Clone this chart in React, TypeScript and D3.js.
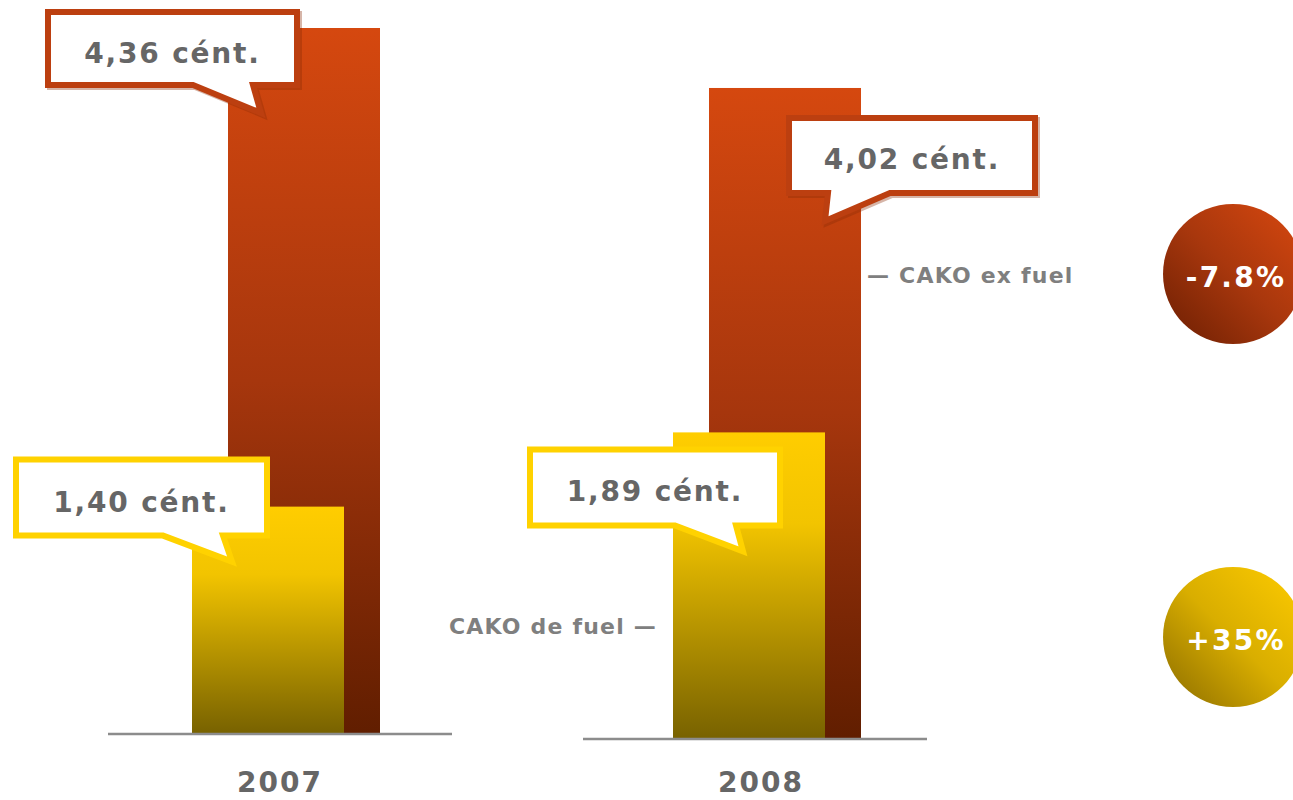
import React from "react";
import * as d3 from "d3";

const years = ["2007", "2008"];
const exFuel = [4.36, 4.02];
const deFuel = [1.40, 1.89];
const exFuelLabels = ["4,36 cént.", "4,02 cént."];
const deFuelLabels = ["1,40 cént.", "1,89 cént."];
const changes = ["-7.8%", "+35%"];
const seriesNames = ["CAKO ex fuel", "CAKO de fuel"];

const W = 1293;
const H = 800;
const baselines = [733, 738];
const barW = 152;
const yellowOff = 84;
const orangeOff = 120;

// callout layout offsets relative to bar left/top: box [x0,x1,y0,y1], tail base [a,b], tip [tx,ty]
const exCallouts = [
  { box: [-180, 69, -16, 57], base: [-35, 25], tip: [33, 85] },
  { box: [80, 326, 30, 105], base: [119, 181], tip: [116, 133] },
];
const deCallouts = [
  { box: [-176, 75, -47, 29], base: [-29, 31], tip: [40, 55] },
  { box: [-143, 107, 17, 93], base: [2, 63], tip: [70, 119] },
];

function calloutPath(bx: number, by: number, c: any) {
  const [x0, x1, y0, y1] = c.box.map((v: number, i: number) => (i < 2 ? bx + v : by + v));
  const a = bx + c.base[0];
  const b = bx + c.base[1];
  const tx = bx + c.tip[0];
  const ty = by + c.tip[1];
  const p = d3.path();
  p.moveTo(x0, y0);
  p.lineTo(x1, y0);
  p.lineTo(x1, y1);
  p.lineTo(b, y1);
  p.lineTo(tx, ty);
  p.lineTo(a, y1);
  p.lineTo(x0, y1);
  p.closePath();
  return { d: p.toString(), cx: (x0 + x1) / 2, cy: (y0 + y1) / 2 };
}

export default function App() {
  const x = d3.scaleBand<string>().domain(years).range([108, 108 + 481 * 2]);
  const h = d3.scaleLinear().domain([0, 4.36]).range([0, 705]);
  const font = "'DejaVu Sans', Verdana, sans-serif";

  return (
    <div style={{ position: "absolute", left: 0, top: 0 }}>
      <svg width={W} height={H} style={{ display: "block" }}>
        <defs>
          <linearGradient id="gOr" x1="0" y1="0" x2="0" y2="1">
            <stop offset="0" stopColor="#D5480F" />
            <stop offset="0.5" stopColor="#A6360D" />
            <stop offset="1" stopColor="#611E00" />
          </linearGradient>
          <linearGradient id="gYe" x1="0" y1="0" x2="0" y2="1">
            <stop offset="0" stopColor="#FFCD00" />
            <stop offset="0.3" stopColor="#F2C400" />
            <stop offset="1" stopColor="#786200" />
          </linearGradient>
          <linearGradient id="cOr" x1="1" y1="0" x2="0" y2="1">
            <stop offset="0" stopColor="#D8480F" />
            <stop offset="0.5" stopColor="#A8370D" />
            <stop offset="1" stopColor="#6A1E02" />
          </linearGradient>
          <linearGradient id="cYe" x1="1" y1="0" x2="0" y2="1">
            <stop offset="0" stopColor="#FFCC00" />
            <stop offset="0.5" stopColor="#D9AE00" />
            <stop offset="1" stopColor="#8A6B00" />
          </linearGradient>
        </defs>

        {years.map((yr, i) => {
          const x0 = x(yr)!;
          const base = baselines[i];
          const oTop = base - h(exFuel[i]);
          const yTop = base - h(deFuel[i]);
          return (
            <g key={yr}>
              <rect x={x0 + orangeOff} y={oTop} width={barW} height={h(exFuel[i])} fill="url(#gOr)" />
              <rect x={x0 + yellowOff} y={yTop} width={barW} height={h(deFuel[i])} fill="url(#gYe)" />
              <line x1={x0 - (i === 1 ? 6 : 0)} x2={x0 + 344 - (i === 1 ? 6 : 0)} y1={base + 1} y2={base + 1} stroke="#8c8c8c" strokeWidth={2.5} />
              <text x={x0 + 172} y={792} textAnchor="middle" fontFamily={font} fontWeight="bold" fontSize={28} letterSpacing={2} fill="#666">
                {yr}
              </text>
            </g>
          );
        })}

        {years.map((yr, i) => {
          const x0 = x(yr)!;
          const base = baselines[i];
          const oTop = base - h(exFuel[i]);
          const yTop = base - h(deFuel[i]);
          const co = calloutPath(x0 + orangeOff, oTop, exCallouts[i]);
          const cy = calloutPath(x0 + yellowOff, yTop, deCallouts[i]);
          return (
            <g key={"c" + yr}>
              <path d={co.d} transform="translate(2,2)" fill="none" stroke="#8A2A06" strokeOpacity={0.35} strokeWidth={6} strokeLinejoin="miter" />
              <path d={co.d} fill="#fff" stroke="#BC3F10" strokeWidth={6} strokeLinejoin="miter" />
              <text x={co.cx} y={co.cy + 14} textAnchor="middle" fontFamily={font} fontWeight="bold" fontSize={28} letterSpacing={1.8} fill="#666">
                {exFuelLabels[i]}
              </text>
              <path d={cy.d} fill="#fff" stroke="#FFD200" strokeWidth={6} strokeLinejoin="miter" />
              <text x={cy.cx} y={cy.cy + 14} textAnchor="middle" fontFamily={font} fontWeight="bold" fontSize={28} letterSpacing={1.8} fill="#666">
                {deFuelLabels[i]}
              </text>
            </g>
          );
        })}

        <text x={867} y={283} fontFamily={font} fontWeight="bold" fontSize={22} letterSpacing={1.2} fill="#7f7f7f">
          {"— " + seriesNames[0]}
        </text>
        <text x={657} y={634} textAnchor="end" fontFamily={font} fontWeight="bold" fontSize={22} letterSpacing={1.2} fill="#7f7f7f">
          {seriesNames[1] + " —"}
        </text>

        {changes.map((c, i) => {
          const cyy = i === 0 ? 274 : 637;
          return (
            <g key={c}>
              <circle cx={1233} cy={cyy} r={70} fill={i === 0 ? "url(#cOr)" : "url(#cYe)"} />
              <text x={1236} y={cyy + 13} textAnchor="middle" fontFamily={font} fontWeight="bold" fontSize={28} letterSpacing={2.2} fill="#fff">
                {c}
              </text>
            </g>
          );
        })}
      </svg>
    </div>
  );
}
